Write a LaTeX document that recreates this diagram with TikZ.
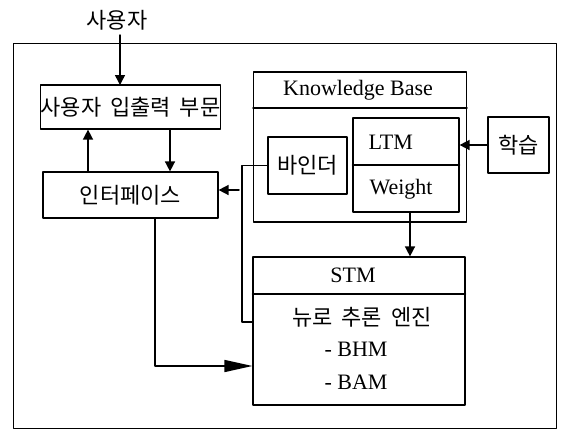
\documentclass[tikz,border=0pt]{standalone}
\usepackage{fontspec}
\setmainfont{Liberation Serif}
\newfontfamily\kr[WordSpace=1.8]{Noto Sans CJK KR}
\usetikzlibrary{arrows.meta}

\tikzset{
  box/.style={draw, line width=1.2pt, inner sep=0pt},
  conn/.style={line width=1.5pt},
  arr/.style={conn, -{Triangle[length=10pt,width=10pt]}},
  bigarr/.style={conn, -{Triangle[length=28pt,width=12pt]}},
  krtxt/.style={font=\kr\fontsize{22}{25}\selectfont},
  entxt/.style={font=\fontsize{22}{25}\selectfont}
}

\begin{document}
\begin{tikzpicture}[x=1pt,y=-1pt,line cap=round,line join=round]
\useasboundingbox (0,0) rectangle (563,429);
% outer frame
\node[draw, line width=1pt, minimum width=543, minimum height=385] (frame) at (284.5,235.5) {};
% user side
\node[krtxt, inner sep=0pt] (user) at (117,20) {사용자};
\node[box, krtxt, minimum width=175, minimum height=44] (io) at (130.5,107) {사용자 입출력 부문};
\node[box, krtxt, minimum width=175, minimum height=46] (ui) at (130.5,195) {인터페이스};
\draw[arr] (120,35) -- (120,85);
\draw[arr] (ui.north -| 88,0) -- (io.south -| 88,0);
\draw[arr] (io.south -| 170,0) -- (ui.north -| 170,0);
% knowledge base
\node[box, minimum width=213, minimum height=150] (kb) at (360,147) {};
\node[entxt] (kbt) at (358,90) {Knowledge Base};
\coordinate (kbsep) at (0,108);
\draw[line width=1.2pt] (kb.west |- kbsep) -- (kb.east |- kbsep);
\node[box, krtxt, minimum width=79, minimum height=57] (binder) at (307.5,165.5) {바인더};
\node[box, minimum width=106, minimum height=94] (ltm) at (406,165) {};
\draw[line width=1.2pt] (ltm.west) -- (ltm.east);
\node[entxt, anchor=west] (ltmt) at (365,142) {LTM};
\node[entxt, anchor=west] (wt) at (366,189) {Weight};
\node[box, krtxt, minimum width=61, minimum height=56] (learn) at (518.5,145) {학습};
\draw[arr] (learn.west) -- (ltm.east |- learn.west);
% STM
\node[box, minimum width=212, minimum height=148] (stm) at (359,331) {};
\coordinate (stmsep) at (0,294);
\draw[line width=1.2pt] (stm.west |- stmsep) -- (stm.east |- stmsep);
\node[entxt] (stmt) at (353,275) {STM};
\node[krtxt] (eng) at (362,317) {뉴로 추론 엔진};
\node[entxt] (bhm) at (356,349) {- BHM};
\node[entxt] (bam) at (356,382) {- BAM};
\draw[arr] (ltm.south -| 410,0) -- (stm.north -| 410,0);
% binder links
\coordinate (bend) at (242,322);
\draw[conn] (binder.west) -| (bend) -- (stm.west |- bend);
\coordinate (tap) at (239,190);
\draw[arr] (tap) -- (ui.east |- tap);
% interface to engine
\coordinate (low) at (155,366);
\draw[bigarr] (ui.south -| low) |- (stm.west |- low);
\end{tikzpicture}
\end{document}
